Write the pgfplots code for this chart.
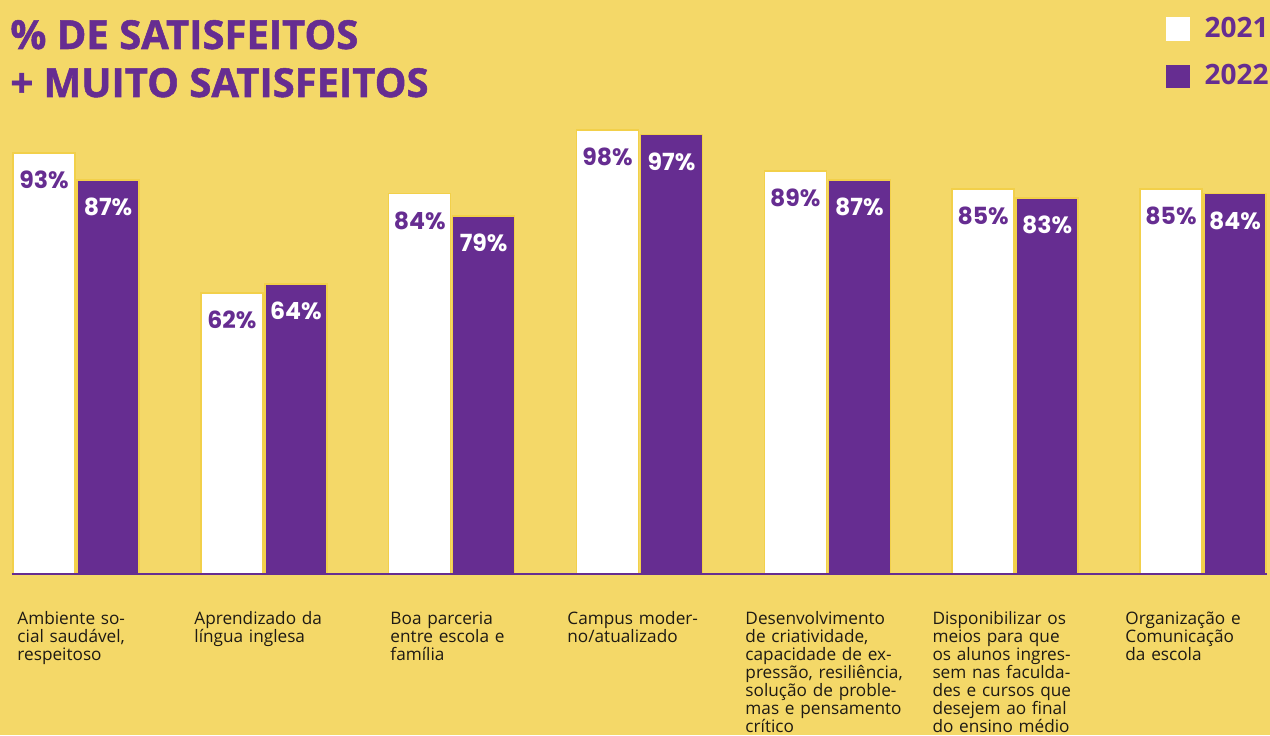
\documentclass[border=0pt]{standalone}
\usepackage{pgfplots}
\pgfplotsset{compat=1.18}
\usepackage{fontspec}
\setmainfont{Open Sans}
\newfontfamily\popp{Poppins}
\newfontfamily\titlefont{Open Sans}[BoldFeatures={FakeBold=1.3}]
\definecolor{bg}{HTML}{F4D868}
\definecolor{purp}{HTML}{662D91}
\definecolor{bord}{HTML}{F2D04A}
\definecolor{lbl}{HTML}{1E1A14}
\begin{document}
\begin{tikzpicture}
\path[use as bounding box, fill=bg] (0,0) rectangle (635pt,367.5pt);
\node[anchor=base west, inner sep=0pt, text=purp, font=\titlefont\fontsize{20pt}{24pt}\selectfont\bfseries] at (5pt,343pt) {\% DE SATISFEITOS};
\node[anchor=base west, inner sep=0pt, text=purp, font=\titlefont\fontsize{20pt}{24pt}\selectfont\bfseries] at (5pt,319pt) {+ MUITO SATISFEITOS};
\begin{axis}[
  at={(6pt,80.5pt)}, anchor=south west,
  scale only axis, width=627.5pt, height=226.5pt,
  xmin=-0.341, xmax=6.341, ymin=0, ymax=100,
  enlargelimits=false,
  axis x line*=bottom, axis y line=none,
  x axis line style={draw=purp, line width=0.8pt, -},
  ytick=\empty,
  xtick={-0.314,0.628,1.672,2.614,3.562,4.558,5.585},
  xticklabels={
    {Ambiente so-\\cial saudável,\\respeitoso},
    {Aprendizado da\\língua inglesa},
    {Boa parceria\\entre escola e\\família},
    {Campus moder-\\no/atualizado},
    {Desenvolvimento\\de criatividade,\\capacidade de ex-\\pressão, resiliência,\\solução de proble-\\mas e pensamento\\crítico},
    {Disponibilizar os\\meios para que\\os alunos ingres-\\sem nas faculda-\\des e cursos que\\desejem ao final\\do ensino médio},
    {Organização e\\Comunicação\\da escola}},
  major tick length=0pt,
  xticklabel style={anchor=north west, inner sep=0pt, text width=110pt, align=left,
    yshift=-18.5pt, text=lbl, font=\fontsize{8.6pt}{9pt}\selectfont},
  ybar, bar width=31pt,
  axis on top,
  legend style={at={(1.0096,1.2473)}, anchor=north east, draw=none, fill=none,
    font=\fontsize{14pt}{16pt}\selectfont\bfseries, text=purp, row sep=8pt},
  legend cell align=left,
  legend image code/.code={\path[#1, draw=none] (0pt,-5.9pt) rectangle (11.8pt,5.9pt); \path[draw=none, fill=none] (0pt,0pt) -- (17.3pt,0pt);},
  /pgf/number format/assume math mode=true,
  nodes near coords={\pgfmathprintnumber{\pgfplotspointmeta}\%},
  every node near coord/.append style={anchor=center, yshift=-13.5pt,
    font=\popp\fontsize{11.8pt}{13pt}\selectfont\bfseries},
]
\addplot[fill=white, draw=bord, line width=0.8pt, bar shift=-16pt,
  every node near coord/.append style={text=purp}]
  coordinates {(0,93) (1,62) (2,84) (3,98) (4,89) (5,85) (6,85)};
\addplot[fill=purp, draw=bord, line width=0.8pt, bar shift=16pt,
  every node near coord/.append style={text=white}]
  coordinates {(0,87) (1,64) (2,79) (3,97) (4,87) (5,83) (6,84)};
\legend{2021,2022}
\end{axis}
\end{tikzpicture}
\end{document}
